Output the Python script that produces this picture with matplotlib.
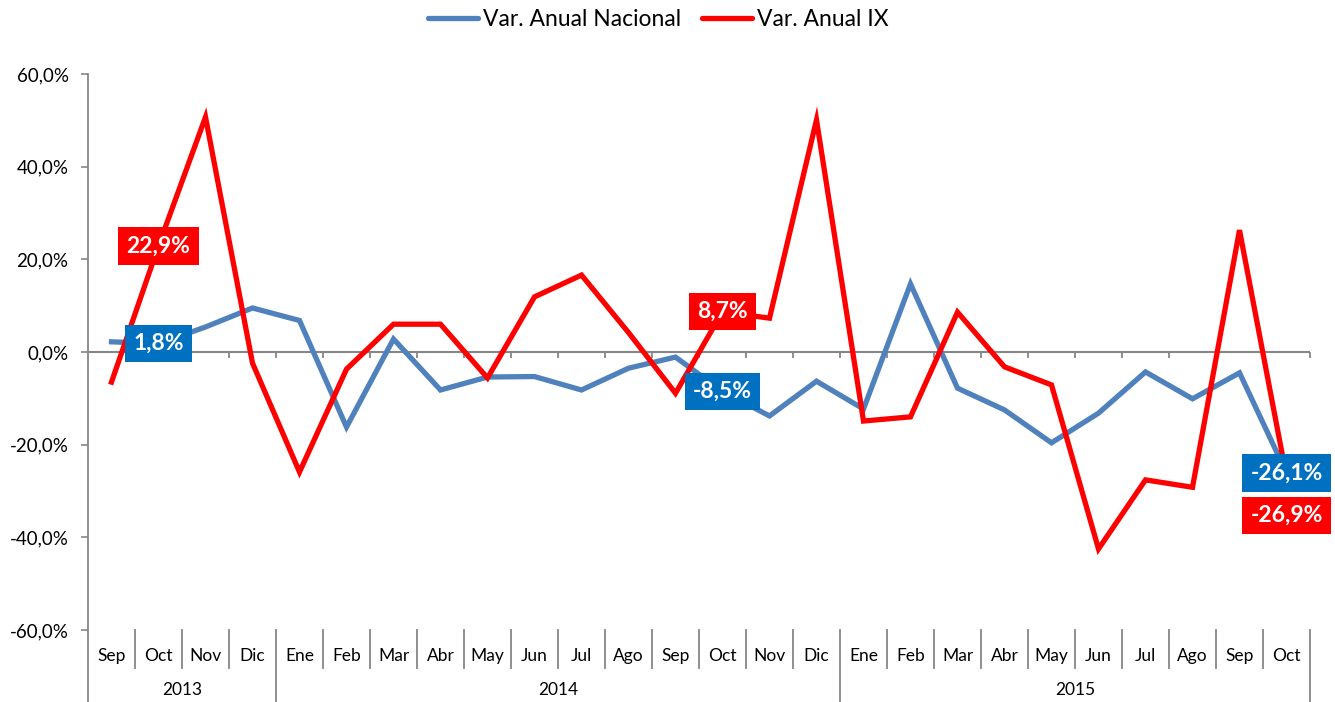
import matplotlib
matplotlib.use('Agg')
import matplotlib.pyplot as plt
import matplotlib.transforms as mtransforms
from matplotlib.lines import Line2D

plt.rcParams['font.family'] = ['Lato', 'DejaVu Sans']

months = ['Sep', 'Oct', 'Nov', 'Dic', 'Ene', 'Feb', 'Mar', 'Abr', 'May', 'Jun', 'Jul', 'Ago', 'Sep',
          'Oct', 'Nov', 'Dic', 'Ene', 'Feb', 'Mar', 'Abr', 'May', 'Jun', 'Jul', 'Ago', 'Sep', 'Oct']
years = ['2013', '2014', '2015']
year_counts = [4, 12, 10]

nacional = [2.2, 1.8, 5.4, 9.5, 6.8, -16.2, 2.8, -8.2, -5.4, -5.3, -8.2, -3.5, -1.1,
            -8.5, -13.8, -6.3, -12.3, 14.7, -7.8, -12.5, -19.6, -13.2, -4.3, -10.1, -4.5, -26.1]
ix = [-6.5, 22.9, 50.7, -2.4, -25.9, -3.7, 6.0, 6.0, -5.6, 11.9, 16.6, 4.2, -8.9,
      8.7, 7.3, 50.1, -14.9, -14.0, 8.6, -3.2, -7.1, -42.5, -27.6, -29.2, 26.3, -26.9]

# points that carry a value label
labelled = [1, 13, 25]

blue = '#4F81BD'
red = '#FF0000'
lbl_blue = '#0070C0'
grey = '#868686'

W, H = 1335, 702
fig = plt.figure(figsize=(W / 100, H / 100), dpi=100)
ax = fig.add_axes([88 / W, (H - 630) / H, (1310 - 88) / W, (630 - 74) / H])

x = list(range(len(months)))
ax.plot(x, nacional, color=blue, lw=3.8, label='Var. Anual Nacional', solid_joinstyle='miter')
ax.plot(x, ix, color=red, lw=3.8, label='Var. Anual IX', solid_joinstyle='miter')

ax.set_xlim(-0.5, len(months) - 0.5)
ax.set_ylim(-60, 60)
yt = [-60, -40, -20, 0, 20, 40, 60]
ax.set_yticks(yt)
ax.set_yticklabels([f'{v:.1f}%'.replace('.', ',') for v in yt], fontsize=13.5)
ax.tick_params(axis='y', length=5, width=1.2, color=grey, pad=9)
ax.set_xticks([])
for s in ax.spines.values():
    s.set_visible(False)

# category axis at zero
ax.axhline(0, color=grey, lw=1.5, zorder=1)
bounds = [k - 0.5 for k in range(1, len(months) + 1)]
ax.plot(bounds, [0] * len(bounds), ls='none', marker=3, ms=4, mew=1.3, color=grey, zorder=1)

trans = mtransforms.blended_transform_factory(ax.transData, ax.transAxes)
# left spine, running down through the label area
ax.add_line(Line2D([-0.5, -0.5], [1, -0.13], transform=trans, color=grey, lw=1.3, clip_on=False))

year_bounds = [-0.5]
for c in year_counts:
    year_bounds.append(year_bounds[-1] + c)
for b in range(1, len(months) + 1):
    xb = b - 0.5
    y0 = -0.13 if xb in year_bounds else -0.068
    ax.add_line(Line2D([xb, xb], [0, y0], transform=trans, color=grey, lw=1.3, clip_on=False))

for i, m in enumerate(months):
    ax.text(i, -0.047, m, transform=trans, ha='center', va='center', fontsize=12.5)
for i, yr in enumerate(years):
    xc = (year_bounds[i] + year_bounds[i + 1]) / 2
    ax.text(xc, -0.108, yr, transform=trans, ha='center', va='center', fontsize=12.5)

# value labels
def tag(i, v, fc, dy=0):
    txt = f'{v:.1f}%'.replace('.', ',')
    ax.annotate(txt, (i, v), xytext=(0, dy), textcoords='offset points', ha='center', va='center',
                fontsize=16.5, fontweight='bold', color='white', zorder=5, annotation_clip=False,
                bbox=dict(boxstyle='square,pad=0.36', fc=fc, ec='none'))

for i in labelled:
    tag(i, nacional[i], lbl_blue)
tag(labelled[0], ix[labelled[0]], red)
tag(labelled[1], ix[labelled[1]], red)
tag(labelled[2], ix[labelled[2]], red, dy=-28)

leg = fig.legend(loc='center', bbox_to_anchor=(0.493, 1 - 20 / H), ncol=2, frameon=False,
                 fontsize=16.5, handlelength=2.2, handletextpad=0.2, columnspacing=0.9)
for h in leg.get_lines():
    h.set_solid_capstyle('round')

fig.savefig('out.png', dpi=100)
